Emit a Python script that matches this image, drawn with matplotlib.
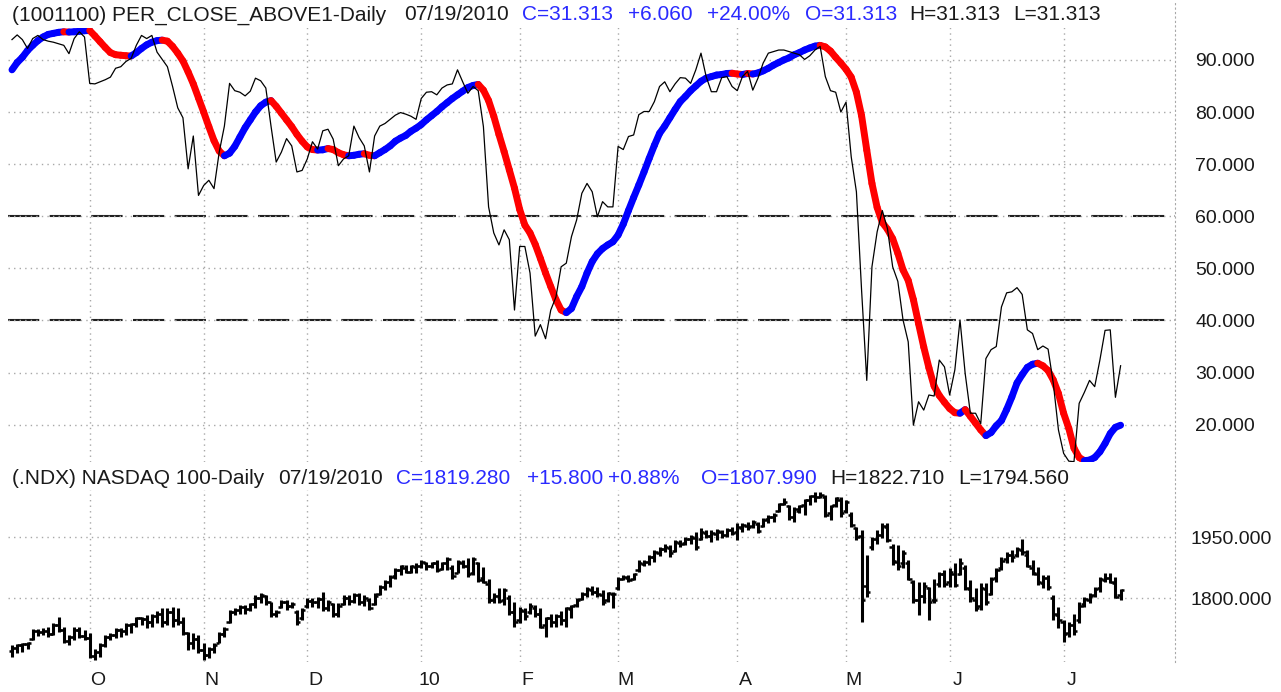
import matplotlib
matplotlib.use("Agg")
import matplotlib.pyplot as plt
from matplotlib.collections import LineCollection
from matplotlib.patches import Rectangle
import numpy as np
import pandas as pd

plt.rcParams['font.family'] = ['Liberation Sans', 'DejaVu Sans']

# trading days 10 Sep 2009 .. 19 Jul 2010
holidays = ['2009-11-26', '2009-12-25', '2010-01-01', '2010-01-18',
            '2010-02-15', '2010-04-02', '2010-05-31', '2010-07-05']
dates = pd.date_range('2009-09-10', '2010-07-19',
                      freq=pd.offsets.CustomBusinessDay(holidays=holidays))

# percent of stocks closing above ... (thin black line)
pct_above = [
    93.9, 94.8, 93.9, 92.2, 94.1, 94.7, 93.9, 93.6, 93.4, 93.1,
    92.8, 91.2, 94.1, 95.4, 94.4, 85.5, 85.4, 85.8, 86.2, 86.7,
    88.4, 88.7, 89.7, 90.3, 92.8, 94.7, 94.1, 94.7, 91.5, 90.1,
    88.7, 84.9, 80.8, 78.9, 69.1, 75.4, 64.0, 65.9, 66.9, 65.3,
    72.3, 77.3, 85.5, 84.1, 83.8, 83.1, 84.0, 86.5, 86.0, 84.6,
    77.3, 70.4, 72.3, 74.9, 73.5, 68.5, 68.8, 71.0, 74.3, 72.9,
    76.4, 76.7, 74.8, 69.7, 71.0, 71.6, 77.3, 75.1, 73.5, 68.5,
    75.4, 77.3, 77.8, 78.6, 79.4, 79.9, 79.6, 79.2, 78.6, 82.6,
    83.8, 83.9, 83.3, 84.6, 85.2, 85.4, 88.1, 85.8, 83.6, 84.9,
    84.1, 77.2, 61.8, 56.8, 54.5, 57.4, 55.5, 42.0, 54.2, 54.2,
    49.1, 37.0, 39.2, 36.5, 42.0, 44.5, 50.3, 51.0, 56.1, 59.3,
    64.4, 66.3, 64.7, 59.9, 62.8, 61.8, 61.8, 73.4, 72.8, 75.3,
    75.6, 79.5, 80.1, 80.1, 82.0, 84.9, 85.8, 83.9, 85.4, 86.6,
    86.5, 85.5, 88.1, 91.3, 86.8, 83.9, 83.9, 86.6, 86.8, 84.9,
    84.1, 86.8, 87.8, 84.2, 86.5, 89.4, 91.3, 91.6, 91.9, 91.9,
    91.6, 91.3, 91.0, 90.1, 90.8, 91.9, 92.6, 86.8, 84.1, 83.8,
    80.0, 81.9, 71.4, 64.7, 45.8, 28.5, 50.3, 57.0, 61.1, 57.6,
    50.3, 47.5, 40.1, 35.9, 19.9, 24.4, 22.8, 25.7, 25.5, 32.4,
    31.1, 25.7, 30.5, 40.1, 29.8, 22.2, 22.2, 20.2, 32.7, 34.4,
    35.0, 42.6, 45.3, 45.5, 46.3, 45.0, 38.2, 37.5, 34.4, 35.1,
    34.5, 28.0, 19.0, 14.5, 13.0, 12.9, 24.1, 26.2, 28.5, 27.3,
    32.4, 38.1, 38.2, 25.253, 31.313,
]

# smoothed line (red falling / blue rising)
pct_smooth = [
    88.1, 89.5, 90.5, 91.8, 92.8, 93.7, 94.4, 94.9, 95.1, 95.3,
    95.4, 95.35, 95.4, 95.5, 95.6, 95.65, 94.6, 93.5, 92.4, 91.4,
    91.0, 90.9, 90.8, 90.75, 91.4, 92.2, 92.9, 93.4, 93.7, 93.8,
    93.6, 92.6, 91.3, 89.8, 87.7, 85.4, 82.7, 80.0, 77.2, 74.5,
    72.5, 71.6, 72.1, 73.4, 75.2, 77.0, 78.5, 80.0, 81.2, 81.9,
    82.2, 81.1, 79.8, 78.5, 77.2, 75.7, 74.4, 73.3, 72.8, 72.7,
    72.75, 73.0, 72.8, 72.2, 71.8, 71.6, 71.7, 71.9, 72.0, 71.7,
    71.6, 72.2, 72.8, 73.5, 74.4, 75.0, 75.5, 76.3, 76.9, 77.6,
    78.5, 79.3, 80.1, 81.0, 81.8, 82.6, 83.3, 84.0, 84.7, 85.1,
    85.3, 84.2, 82.2, 79.2, 75.7, 72.4, 68.9, 65.4, 61.3, 58.3,
    56.8, 54.6, 51.9, 49.1, 46.5, 44.0, 42.0, 41.5, 42.3, 44.6,
    46.5, 49.1, 51.3, 52.8, 53.8, 54.5, 55.1, 56.4, 58.5, 61.1,
    63.6, 66.0, 68.5, 71.1, 73.6, 75.9, 77.3, 78.9, 80.5, 82.0,
    83.0, 84.1, 85.0, 85.9, 86.5, 86.8, 87.1, 87.2, 87.4, 87.45,
    87.3, 87.2, 87.4, 87.3, 87.5, 87.9, 88.4, 89.0, 89.5, 90.0,
    90.4, 91.0, 91.4, 91.9, 92.3, 92.65, 92.8, 92.5, 91.7, 90.5,
    89.4, 88.2, 86.7, 83.8, 79.3, 72.7, 66.3, 61.7, 58.8, 57.5,
    55.7, 52.9, 49.7, 47.7, 44.0, 39.4, 34.9, 30.9, 27.4, 25.6,
    24.3, 23.1, 22.3, 22.2, 22.9, 21.6, 20.3, 19.0, 17.9, 18.5,
    19.8, 20.8, 22.9, 25.3, 28.0, 29.6, 31.0, 31.6, 31.8, 31.3,
    30.4, 28.6, 26.0, 22.2, 19.3, 15.5, 13.7, 13.1, 13.2, 13.7,
    14.8, 16.4, 18.3, 19.5, 19.9,
]

# NASDAQ 100 daily bars
ndx_open = [
    1670, 1678, 1684, 1686, 1700, 1718, 1716, 1720, 1712, 1733,
    1722, 1695, 1705, 1722, 1708, 1703, 1658, 1668, 1685, 1705,
    1710, 1722, 1720, 1735, 1736, 1750, 1748, 1740, 1755, 1760,
    1740, 1765, 1745, 1740, 1715, 1690, 1700, 1672, 1660, 1675,
    1690, 1712, 1742, 1765, 1770, 1778, 1772, 1785, 1800, 1805,
    1790, 1760, 1778, 1790, 1780, 1765, 1750, 1780, 1793, 1790,
    1798, 1775, 1785, 1760, 1785, 1800, 1792, 1808, 1790, 1795,
    1785, 1810, 1828, 1840, 1855, 1868, 1875, 1865, 1876, 1880,
    1885, 1878, 1885, 1872, 1886, 1875, 1862, 1885, 1880, 1862,
    1885, 1850, 1835, 1795, 1805, 1795, 1800, 1765, 1745, 1768,
    1765, 1775, 1760, 1735, 1750, 1742, 1755, 1745, 1772, 1782,
    1798, 1810, 1820, 1815, 1808, 1795, 1810, 1825, 1848, 1850,
    1848, 1870, 1884, 1888, 1900, 1910, 1920, 1922, 1915, 1935,
    1935, 1945, 1948, 1945, 1960, 1952, 1958, 1962, 1956, 1966,
    1962, 1972, 1978, 1978, 1982, 1978, 1994, 2000, 2015, 2032,
    2025, 2000, 2015, 2028, 2042, 2050, 2048, 2048, 2010, 2028,
    2042, 2015, 2005, 1972, 1952, 1830, 1925, 1945, 1955, 1975,
    1925, 1888, 1885, 1885, 1840, 1795, 1805, 1825, 1795, 1835,
    1858, 1840, 1860, 1860, 1875, 1822, 1795, 1780, 1822, 1810,
    1850, 1875, 1895, 1905, 1905, 1918, 1905, 1875, 1860, 1838,
    1850, 1800, 1758, 1740, 1715, 1735, 1745, 1785, 1795, 1808,
    1825, 1845, 1850, 1838, 1807.99,
]
ndx_high = [
    1685, 1687, 1690, 1693, 1723, 1723, 1726, 1730, 1738, 1753,
    1730, 1709, 1730, 1730, 1721, 1713, 1676, 1689, 1709, 1713,
    1726, 1726, 1738, 1739, 1754, 1754, 1758, 1762, 1767, 1775,
    1775, 1779, 1775, 1754, 1717, 1713, 1709, 1689, 1680, 1689,
    1717, 1730, 1771, 1775, 1783, 1783, 1787, 1807, 1812, 1807,
    1791, 1771, 1795, 1795, 1791, 1771, 1775, 1799, 1799, 1803,
    1816, 1795, 1787, 1789, 1807, 1807, 1812, 1812, 1807, 1799,
    1812, 1832, 1844, 1857, 1873, 1881, 1881, 1881, 1885, 1893,
    1889, 1889, 1893, 1889, 1900, 1881, 1893, 1893, 1898, 1900,
    1889, 1877, 1848, 1812, 1824, 1824, 1807, 1791, 1779, 1775,
    1787, 1783, 1775, 1754, 1762, 1762, 1767, 1779, 1783, 1799,
    1816, 1828, 1830, 1828, 1820, 1816, 1816, 1852, 1857, 1857,
    1861, 1893, 1893, 1906, 1918, 1926, 1933, 1930, 1943, 1943,
    1949, 1955, 1963, 1971, 1967, 1967, 1969, 1967, 1971, 1974,
    1984, 1985, 1988, 1992, 1988, 1996, 2004, 2008, 2033, 2045,
    2029, 2024, 2029, 2043, 2053, 2061, 2061, 2053, 2029, 2049,
    2049, 2041, 2012, 1975, 1967, 1906, 1951, 1967, 1984, 1984,
    1934, 1930, 1918, 1893, 1844, 1840, 1840, 1828, 1848, 1865,
    1869, 1873, 1885, 1898, 1881, 1844, 1824, 1836, 1836, 1852,
    1873, 1902, 1914, 1918, 1926, 1944, 1918, 1893, 1877, 1857,
    1857, 1807, 1779, 1746, 1742, 1762, 1791, 1803, 1812, 1828,
    1852, 1861, 1861, 1852, 1822.71,
]
ndx_low = [
    1656, 1664, 1668, 1676, 1697, 1707, 1709, 1705, 1709, 1717,
    1689, 1685, 1697, 1701, 1697, 1652, 1648, 1656, 1680, 1697,
    1701, 1705, 1709, 1713, 1730, 1734, 1726, 1730, 1738, 1730,
    1734, 1730, 1734, 1709, 1672, 1676, 1664, 1648, 1652, 1664,
    1689, 1705, 1738, 1758, 1762, 1762, 1767, 1775, 1787, 1783,
    1754, 1753, 1775, 1771, 1775, 1734, 1746, 1775, 1779, 1775,
    1767, 1767, 1753, 1754, 1783, 1783, 1787, 1783, 1780, 1771,
    1783, 1807, 1820, 1828, 1848, 1857, 1861, 1861, 1861, 1873,
    1869, 1873, 1865, 1869, 1869, 1848, 1861, 1873, 1852, 1857,
    1840, 1836, 1787, 1787, 1787, 1783, 1758, 1730, 1738, 1746,
    1762, 1754, 1726, 1705, 1730, 1730, 1734, 1730, 1750, 1779,
    1795, 1803, 1807, 1803, 1783, 1791, 1775, 1820, 1844, 1840,
    1844, 1865, 1879, 1881, 1889, 1903, 1914, 1902, 1914, 1926,
    1930, 1934, 1918, 1943, 1947, 1938, 1943, 1947, 1951, 1955,
    1943, 1963, 1967, 1971, 1959, 1975, 1984, 1988, 2012, 2029,
    1992, 1988, 2008, 2004, 2029, 2037, 2045, 2000, 1992, 2024,
    2000, 2008, 1975, 1943, 1742, 1803, 1918, 1934, 1947, 1938,
    1881, 1869, 1873, 1844, 1787, 1758, 1787, 1746, 1787, 1828,
    1828, 1828, 1828, 1857, 1820, 1791, 1767, 1771, 1783, 1807,
    1840, 1869, 1885, 1889, 1902, 1906, 1877, 1857, 1832, 1824,
    1820, 1746, 1726, 1693, 1705, 1709, 1738, 1779, 1787, 1803,
    1816, 1840, 1836, 1799, 1794.56,
]
ndx_close = [
    1678, 1684, 1686, 1690, 1718, 1716, 1720, 1712, 1733, 1722,
    1695, 1705, 1722, 1708, 1703, 1658, 1668, 1685, 1705, 1710,
    1722, 1720, 1735, 1736, 1750, 1748, 1740, 1755, 1760, 1740,
    1765, 1745, 1740, 1715, 1690, 1700, 1672, 1660, 1675, 1685,
    1712, 1725, 1765, 1770, 1778, 1772, 1785, 1800, 1808, 1790,
    1760, 1765, 1790, 1780, 1785, 1740, 1770, 1793, 1790, 1798,
    1775, 1790, 1760, 1780, 1800, 1792, 1808, 1790, 1800, 1775,
    1805, 1828, 1840, 1852, 1868, 1878, 1865, 1878, 1880, 1888,
    1878, 1885, 1870, 1886, 1895, 1855, 1888, 1880, 1858, 1895,
    1845, 1840, 1795, 1805, 1793, 1820, 1765, 1740, 1770, 1755,
    1780, 1760, 1730, 1750, 1740, 1755, 1745, 1775, 1780, 1795,
    1810, 1822, 1815, 1810, 1790, 1812, 1810, 1848, 1852, 1845,
    1858, 1886, 1888, 1900, 1912, 1920, 1925, 1910, 1938, 1932,
    1945, 1950, 1925, 1962, 1952, 1960, 1965, 1955, 1968, 1960,
    1975, 1980, 1975, 1988, 1965, 1992, 2000, 2005, 2030, 2035,
    1998, 2018, 2025, 2040, 2050, 2048, 2052, 2005, 2025, 2045,
    2010, 2035, 1980, 1950, 1795, 1815, 1945, 1955, 1978, 1942,
    1890, 1880, 1910, 1848, 1795, 1805, 1830, 1790, 1795, 1860,
    1835, 1865, 1832, 1885, 1825, 1800, 1775, 1825, 1790, 1848,
    1868, 1892, 1905, 1900, 1920, 1912, 1880, 1862, 1840, 1850,
    1828, 1760, 1745, 1712, 1735, 1718, 1780, 1798, 1805, 1822,
    1848, 1850, 1840, 1803.48, 1819.28,
]

top_ticks = [20, 30, 40, 50, 60, 70, 80, 90]
top_levels = [40, 60]
bottom_ticks = [1800, 1950]

top_title = [
    ("(1001100) PER_CLOSE_ABOVE1-Daily", 12, 'k'),
    ("07/19/2010", 404, 'k'),
    ("C=31.313", 522, 'b'),
    ("+6.060", 628, 'b'),
    ("+24.00%", 707, 'b'),
    ("O=31.313", 805, 'b'),
    ("H=31.313", 909, 'k'),
    ("L=31.313", 1013, 'k'),
]
bottom_title = [
    ("(.NDX) NASDAQ 100-Daily", 12, 'k'),
    ("07/19/2010", 278, 'k'),
    ("C=1819.280", 396, 'b'),
    ("+15.800", 527, 'b'),
    ("+0.88%", 608, 'b'),
    ("O=1807.990", 701, 'b'),
    ("H=1822.710", 830, 'k'),
    ("L=1794.560", 958, 'k'),
]

BLACK = '#1a1a1a'
BLUE_TXT = '#2a2aff'
GRID = '#a8a8a8'
W, H = 1281, 692

x = np.arange(len(dates))
month_starts = [i for i in range(1, len(dates)) if dates[i].month != dates[i - 1].month]
month_labels = [dates[i].strftime('%y') if dates[i].month == 1 else dates[i].strftime('%b')[0]
                for i in month_starts]

fig = plt.figure(figsize=(W / 100, H / 100), dpi=100)
left, right = 8 / W, 1175 / W
ax1 = fig.add_axes([left, 1 - 462 / H, right - left, 462 / H])
ax2 = fig.add_axes([left, 1 - 662 / H, right - left, 200 / H])

for ax in (ax1, ax2):
    ax.set_xlim(-0.77, 224.5)
    for s in ('top', 'left', 'bottom'):
        ax.spines[s].set_visible(False)
    ax.spines['right'].set_color(GRID)
    ax.spines['right'].set_linestyle((0, (1, 3)))
    ax.yaxis.tick_right()
    ax.tick_params(axis='y', length=0, labelsize=14, labelcolor=BLACK)
    ax.grid(axis='y', color=GRID, linestyle=(0, (1, 3)), linewidth=1)
    for m in month_starts:
        ax.axvline(m, color=GRID, linestyle=(0, (1, 3)), linewidth=1, zorder=0.5)

# top panel
ax1.set_ylim(12.84, 101.5)
ax1.set_yticks(top_ticks)
ax1.set_yticklabels([f"{v:.3f}" for v in top_ticks])
ax1.tick_params(axis='y', pad=14.4)
ax1.set_xticks([])
for lv in top_levels:
    ax1.axhline(lv, color='#202020', linewidth=1.5, dashes=(15, 5), zorder=1)

sm = np.array(pct_smooth)
segs = [[(x[i], sm[i]), (x[i + 1], sm[i + 1])] for i in range(len(x) - 1)]
cols = ['#0000ff' if sm[i + 1] >= sm[i] else '#ff0000' for i in range(len(x) - 1)]
lc = LineCollection(segs, colors=cols, linewidths=5, capstyle='round', zorder=2)
ax1.add_collection(lc)
ax1.plot(x, pct_above, color='black', linewidth=0.9, zorder=3)

ax1.add_patch(Rectangle((0, (462 - 28) / 462), (1105 - 8) / 1167, 1, transform=ax1.transAxes,
                        facecolor='white', edgecolor='none', zorder=4))
for txt, px, c in top_title:
    fig.text(px / W, 1 - 15 / H, txt, fontsize=15, va='center', ha='left',
             color=BLACK if c == 'k' else BLUE_TXT, zorder=5)

# bottom panel
ax2.set_ylim(1642.9, 2134.3)
ax2.set_yticks(bottom_ticks)
ax2.set_yticklabels([f"{v:.3f}" for v in bottom_ticks])
ax2.tick_params(axis='y', pad=11.5)
ax2.vlines(x, ndx_low, ndx_high, color='black', linewidth=2.2, zorder=2)
ax2.hlines(ndx_open, x - 0.65, x, color='black', linewidth=1.8, zorder=2)
ax2.hlines(ndx_close, x, x + 0.65, color='black', linewidth=1.8, zorder=2)

ax2.add_patch(Rectangle((0, (662 - 490) / 200), (1075 - 8) / 1167, 1, transform=ax2.transAxes,
                        facecolor='white', edgecolor='none', zorder=4))
for txt, px, c in bottom_title:
    fig.text(px / W, 1 - 478 / H, txt, fontsize=15, va='center', ha='left',
             color=BLACK if c == 'k' else BLUE_TXT, zorder=5)

ax2.set_xticks([m + 1.5 for m in month_starts])
ax2.set_xticklabels(month_labels)
ax2.tick_params(axis='x', length=0, labelsize=14, labelcolor=BLACK, pad=7)

fig.savefig('out.png', dpi=100)
